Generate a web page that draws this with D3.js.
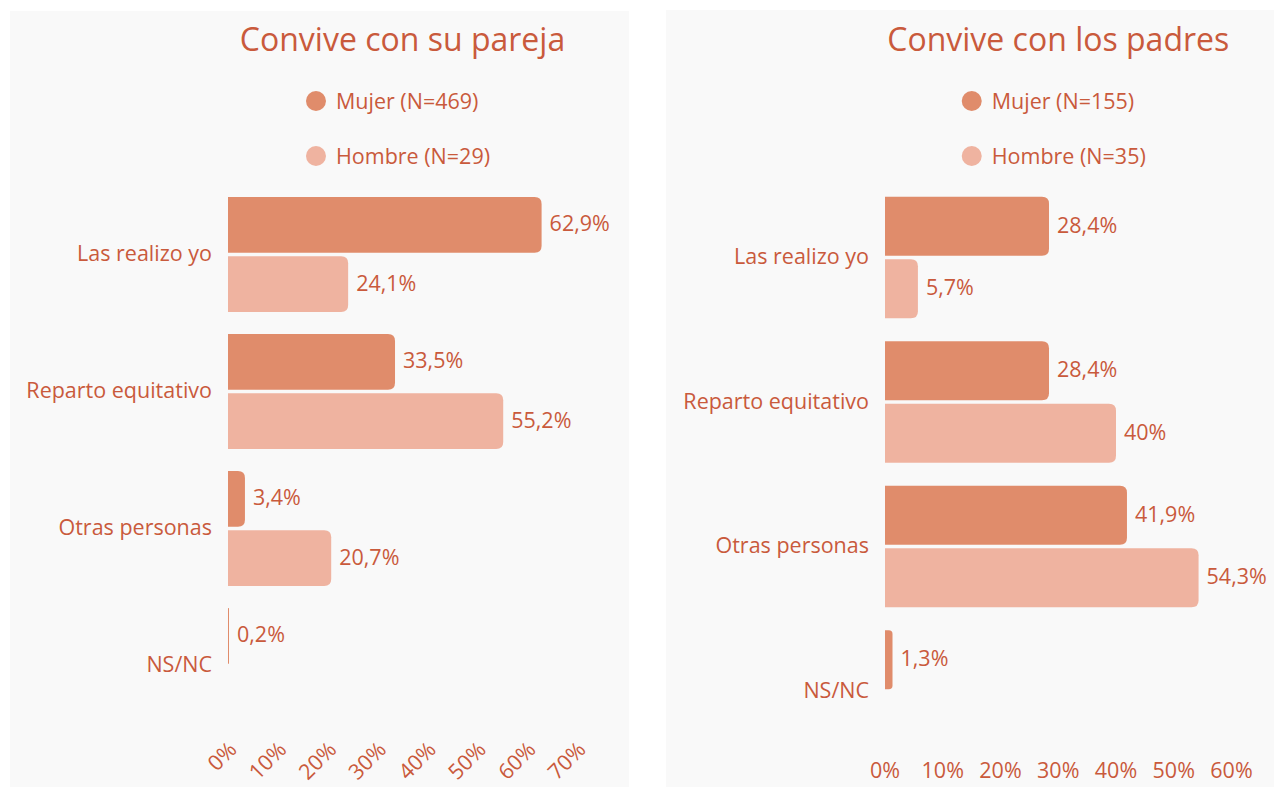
<!DOCTYPE html>
<html lang="es">
<head>
<meta charset="UTF-8" />
<title>Convive con su pareja / con los padres</title>
<script src="https://d3js.org/d3.v7.min.js"></script>
<style>
  body { margin: 0; background: #ffffff; }
  svg { display: block; font-family: "Open Sans", "Noto Sans", sans-serif; }
  .txt { fill: #c95a3c; }
</style>
</head>
<body>
<script>
  // categories and series
  const categories = ["Las realizo yo", "Reparto equitativo", "Otras personas", "NS/NC"];
  const seriesNames = ["Mujer", "Hombre"];

  // Convive con su pareja
  const parejaMujer = [62.9, 33.5, 3.4, 0.2];
  const parejaHombre = [24.1, 55.2, 20.7, null];
  const parejaN = [469, 29];
  const parejaTicks = [0, 10, 20, 30, 40, 50, 60, 70];

  // Convive con los padres
  const padresMujer = [28.4, 28.4, 41.9, 1.3];
  const padresHombre = [5.7, 40, 54.3, null];
  const padresN = [155, 35];
  const padresTicks = [0, 10, 20, 30, 40, 50, 60];

  const colors = ["#e08c6b", "#efb3a0"];
  const fs = "21.5px";

  const svg = d3.select("body").append("svg")
    .attr("width", 1274)
    .attr("height", 787);

  function fmt(v) {
    return String(v).replace(".", ",") + "%";
  }

  // bar with rounded right side
  function barPath(x0, y, w, h, r) {
    r = Math.min(r, w / 2, h / 2);
    return "M" + x0 + "," + y +
      "H" + (x0 + w - r) +
      "Q" + (x0 + w) + "," + y + " " + (x0 + w) + "," + (y + r) +
      "V" + (y + h - r) +
      "Q" + (x0 + w) + "," + (y + h) + " " + (x0 + w - r) + "," + (y + h) +
      "H" + x0 + "Z";
  }

  function drawPanel(p) {
    const g = svg.append("g");

    g.append("rect")
      .attr("x", p.box[0]).attr("y", p.box[1])
      .attr("width", p.box[2]).attr("height", p.box[3])
      .attr("fill", "#f9f9f9");

    const x = d3.scaleLinear().domain([0, d3.max(p.ticks)]).range(p.xRange);
    const y = d3.scaleBand().domain(categories).range(p.yRange)
      .paddingInner(0.16).paddingOuter(0.08);
    const ySub = d3.scaleBand().domain(seriesNames).range([0, y.bandwidth()])
      .paddingInner(0.055);

    const cx = (p.xRange[0] + p.xRange[1]) / 2;

    // title
    g.append("text").attr("class", "txt")
      .attr("x", cx).attr("y", 51)
      .attr("text-anchor", "middle")
      .style("font-size", "32px")
      .text(p.title);

    // legend
    const leg = g.append("g");
    seriesNames.forEach((s, i) => {
      const row = leg.append("g").attr("transform", "translate(0," + (101 + i * 55) + ")");
      row.append("circle").attr("cx", 10).attr("cy", 0).attr("r", 10).attr("fill", colors[i]);
      row.append("text").attr("class", "txt")
        .attr("x", 30).attr("y", 0).attr("dy", "0.35em")
        .style("font-size", fs)
        .text(s + " (N=" + p.n[i] + ")");
    });
    const lw = leg.node().getBBox().width;
    leg.attr("transform", "translate(" + (cx - 4.5 - lw / 2) + ",0)");

    // category labels
    g.selectAll(".cat").data(categories).enter().append("text")
      .attr("class", "txt")
      .attr("x", p.xRange[0] - 16)
      .attr("y", d => y(d) + y.bandwidth() / 2 - 1)
      .attr("dy", "0.35em")
      .attr("text-anchor", "end")
      .style("font-size", fs)
      .text(d => d);

    // bars
    const rows = [];
    categories.forEach((c, i) => {
      [p.mujer[i], p.hombre[i]].forEach((v, j) => {
        if (v != null) rows.push({ c: c, s: seriesNames[j], v: v, j: j });
      });
    });

    g.selectAll(".bar").data(rows).enter().append("path")
      .attr("fill", d => colors[d.j])
      .attr("d", d => barPath(x(0), y(d.c) + ySub(d.s), Math.max(1, x(d.v) - x(0)), ySub.bandwidth(), 7));

    g.selectAll(".val").data(rows).enter().append("text")
      .attr("class", "txt")
      .attr("x", d => Math.max(x(0) + 1, x(d.v)) + 8)
      .attr("y", d => y(d.c) + ySub(d.s) + ySub.bandwidth() / 2 - 1)
      .attr("dy", "0.35em")
      .style("font-size", fs)
      .text(d => fmt(d.v));

    // x tick labels
    const tl = g.selectAll(".tick").data(p.ticks).enter().append("text")
      .attr("class", "txt")
      .style("font-size", fs)
      .text(d => d + "%");
    if (p.rotate) {
      tl.attr("text-anchor", "end")
        .attr("transform", d => "translate(" + (x(d) + 10) + "," + p.tickY + ") rotate(-45)");
    } else {
      tl.attr("text-anchor", "middle")
        .attr("x", d => x(d))
        .attr("y", p.tickY);
    }
  }

  drawPanel({
    box: [10, 11, 619, 776],
    title: "Convive con su pareja",
    n: parejaN,
    mujer: parejaMujer,
    hombre: parejaHombre,
    ticks: parejaTicks,
    xRange: [228, 577],
    yRange: [186, 734],
    rotate: true,
    tickY: 751
  });

  drawPanel({
    box: [666, 10, 620, 777],
    title: "Convive con los padres",
    n: padresN,
    mujer: padresMujer,
    hombre: padresHombre,
    ticks: padresTicks,
    xRange: [885, 1231.5],
    yRange: [185.3, 763.3],
    rotate: false,
    tickY: 778
  });
</script>
</body>
</html>
